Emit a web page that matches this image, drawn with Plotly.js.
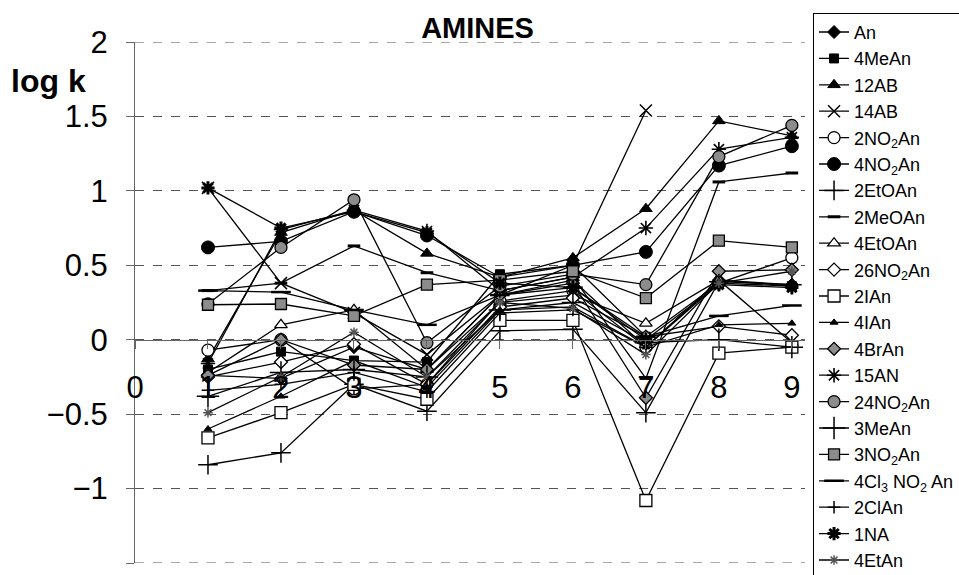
<!DOCTYPE html>
<html>
<head>
<meta charset="utf-8">
<script src="https://cdn.plot.ly/plotly-3.0.1.min.js"></script>
<style>
  html, body { margin: 0; padding: 0; background: #fff; }
  #chart { width: 959px; height: 575px; }
</style>
</head>
<body>
<div id="chart"></div>
<script>
// Substituent position index on the x axis
const positions = [1, 2, 3, 4, 5, 6, 7, 8, 9];

// log k values for each amine
const An        = [-0.24, -0.26, -0.05, -0.20, 0.30, 0.40, -0.05, 0.40, 0.37];
const MeAn4     = [-0.20, -0.08, -0.14, -0.15, 0.44, 0.50, 0.02, 0.38, 0.36];
const AB12      = [-0.13, 0.72, 0.87, 0.58, 0.42, 0.55, 0.88, 1.47, 1.37];
const AB14      = [1.02, 0.38, 0.18, -0.10, 0.30, 0.50, 1.54, null, 1.39];
const NO2An2    = [-0.07, 0.00, -0.33, -0.30, 0.26, 0.33, -0.05, 0.38, 0.55];
const NO2An4    = [0.62, 0.66, 0.86, 0.70, 0.42, 0.50, 0.59, 1.17, 1.30];
const EtOAn2    = [-0.84, -0.76, -0.30, -0.48, 0.06, 0.07, -0.49, 0.39, 0.37];
const MeOAn2    = [0.33, 0.38, 0.63, 0.45, 0.33, 0.42, -0.26, 1.06, 1.12];
const EtOAn4    = [-0.22, 0.10, 0.20, -0.20, 0.25, 0.30, 0.11, 0.40, -0.02];
const NO2An26   = [-0.25, -0.15, -0.03, -0.30, 0.22, 0.28, 0.02, 0.09, 0.03];
const IAn2      = [-0.66, -0.49, -0.30, -0.40, 0.13, 0.13, -1.08, -0.09, -0.05];
const IAn4      = [-0.60, -0.38, -0.14, -0.32, 0.20, 0.22, -0.05, 0.10, 0.11];
const BrAn4     = [-0.24, 0.00, -0.17, -0.20, 0.30, 0.38, -0.39, 0.46, 0.47];
const AN15      = [-0.16, 0.74, 0.87, 0.73, 0.33, 0.42, 0.75, 1.28, 1.36];
const NO2An24   = [0.24, 0.62, 0.94, -0.02, 0.36, 0.44, 0.37, 1.23, 1.44];
const MeAn3     = [-0.38, -0.22, -0.20, -0.25, 0.20, 0.25, -0.02, 0.00, -0.05];
const NO2An3    = [0.235, 0.24, 0.16, 0.37, 0.40, 0.46, 0.28, 0.665, 0.62];
const Cl3NO2An4 = [0.33, 0.32, 0.20, 0.10, 0.30, 0.35, 0.02, 0.16, 0.23];
const ClAn2     = [-0.34, -0.30, -0.22, -0.35, 0.18, 0.20, -0.05, 0.40, 0.36];
const NA1       = [1.02, 0.75, 0.86, 0.72, 0.38, 0.35, 0.00, 0.37, 0.35];
const EtAn4     = [-0.49, -0.25, 0.05, -0.25, 0.25, 0.21, -0.10, 0.38, 0.46];

const GREY = '#8c8c8c';

function series(name, y, symbol, size, fill, lw) {
  return {
    x: positions, y: y, name: name,
    type: 'scatter', mode: 'lines+markers',
    line: { color: 'black', width: 1.3 },
    marker: { symbol: symbol, size: size, color: fill,
              line: { color: 'black', width: lw } },
    cliponaxis: false
  };
}

const traces = [
  series('An', An, 'diamond', 10, 'black', 1),
  series('4MeAn', MeAn4, 'square', 9, 'black', 1),
  series('12AB', AB12, 'triangle-up', 11, 'black', 1),
  series('14AB', AB14, 'x-thin-open', 12, 'black', 1.5),
  series('2NO<sub>2</sub>An', NO2An2, 'circle', 12, 'white', 1.3),
  series('4NO<sub>2</sub>An', NO2An4, 'circle', 13, 'black', 1),
  series('2EtOAn', EtOAn2, 'cross-thin-open', 14, 'black', 1.5),
  series('2MeOAn', MeOAn2, 'line-ew-open', 9, 'black', 3),
  series('4EtOAn', EtOAn4, 'triangle-up', 11, 'white', 1.3),
  series('26NO<sub>2</sub>An', NO2An26, 'diamond', 10, 'white', 1.3),
  series('2IAn', IAn2, 'square', 12, 'white', 1.3),
  series('4IAn', IAn4, 'triangle-up', 7, 'black', 1),
  series('4BrAn', BrAn4, 'diamond', 10, GREY, 1.3),
  series('15AN', AN15, 'asterisk-open', 12, 'black', 1.6),
  series('24NO<sub>2</sub>An', NO2An24, 'circle', 12, GREY, 1.3),
  series('3MeAn', MeAn3, 'cross-thin-open', 16, 'black', 1.5),
  series('3NO<sub>2</sub>An', NO2An3, 'square', 11, GREY, 1.3),
  series('4Cl<sub>3</sub> NO<sub>2</sub> An', Cl3NO2An4, 'line-ew-open', 14, 'black', 2.5),
  series('2ClAn', ClAn2, 'cross-thin-open', 9, 'black', 1.5),
  series('1NA', NA1, 'asterisk-open', 11, 'black', 3),
  series('4EtAn', EtAn4, 'asterisk-open', 8, '#555', 1.5)
];

const FONT = 'Liberation Sans, Arial, sans-serif';

// dashed rules for the top and bottom of the value range
function edgeRule(v) {
  return {
    type: 'line', xref: 'paper', yref: 'y', x0: 0, x1: 1, y0: v, y1: v,
    line: { color: '#555', width: 1, dash: 'dash' }, layer: 'below'
  };
}

const layout = {
  width: 959, height: 575,
  margin: { l: 135, r: 154, t: 42, b: 12, autoexpand: false },
  paper_bgcolor: 'white', plot_bgcolor: 'white',
  font: { family: FONT, color: 'black' },
  showlegend: true,
  title: {
    text: '<b>AMINES</b>',
    x: 0.498, xanchor: 'center', y: 0.951, yanchor: 'middle',
    font: { family: FONT, size: 29, color: 'black' }
  },
  xaxis: {
    range: [0, 9.18],
    tickvals: [0, 1, 2, 3, 4, 5, 6, 7, 8, 9],
    ticktext: ['0', '1', '2', '3', '4', '5', '6', '7', '8', '9'],
    anchor: 'free', position: 1.5 / 3.5,
    showline: true, linecolor: '#666', linewidth: 1,
    ticks: 'outside', ticklen: 8, tickcolor: '#666',
    ticklabelstandoff: 12,
    showgrid: false, zeroline: false,
    tickfont: { family: FONT, size: 31, color: 'black' }
  },
  yaxis: {
    range: [-1.5, 2], dtick: 0.5, tick0: 0,
    showline: true, linecolor: '#666', linewidth: 1,
    ticks: 'outside', ticklen: 8, tickcolor: '#666',
    ticklabelstandoff: 12,
    showgrid: true, gridcolor: '#555', gridwidth: 1, griddash: 'dash',
    zeroline: false,
    tickfont: { family: FONT, size: 31, color: 'black' }
  },
  shapes: [edgeRule(2), edgeRule(-1.5)],
  legend: {
    x: 1.012, xanchor: 'left', y: 1.056, yanchor: 'top',
    bordercolor: 'black', borderwidth: 1, bgcolor: 'white',
    font: { family: FONT, size: 18, color: 'black' },
    tracegroupgap: 0, itemwidth: 30, maxheight: 575
  },
  annotations: [{
    text: '<b>log k</b>', xref: 'paper', yref: 'paper',
    x: -0.188, y: 0.925, xanchor: 'left', yanchor: 'middle',
    showarrow: false, font: { family: FONT, size: 32, color: 'black' }
  }]
};

Plotly.newPlot('chart', traces, layout, { displayModeBar: false, staticPlot: true });
</script>
</body>
</html>
